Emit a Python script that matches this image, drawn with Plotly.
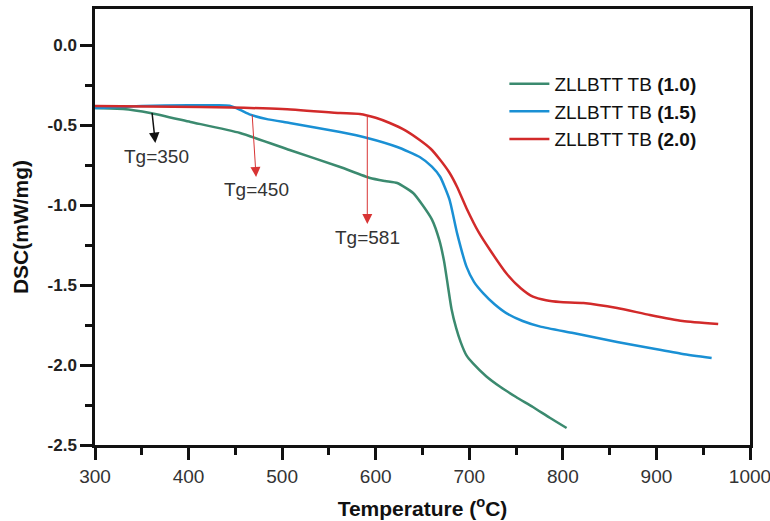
import plotly.graph_objects as go

# ---- data ----
temp_10 = [300, 330, 359, 402, 455, 508, 562, 594, 610, 623, 640, 650, 660, 668, 673, 677, 681, 686,
           691, 697, 704, 718, 733, 750, 768, 786, 804]
dsc_10 = [-0.394, -0.400, -0.425, -0.481, -0.55, -0.656, -0.7625, -0.831, -0.85, -0.8625, -0.925, -1.0,
          -1.09, -1.22, -1.35, -1.50, -1.65, -1.77, -1.86, -1.94, -1.99, -2.07, -2.136, -2.2, -2.2625,
          -2.33, -2.394]

temp_15 = [300, 350, 400, 430, 444, 455, 466, 485, 508, 562, 591, 623, 647, 660, 669, 679, 687, 697,
           705, 715, 727, 740, 757, 776, 811, 858, 893, 928, 959]
dsc_15 = [-0.394, -0.381, -0.376, -0.377, -0.380, -0.405, -0.435, -0.465, -0.4875, -0.544, -0.581,
          -0.6375, -0.70, -0.76, -0.825, -0.969, -1.177, -1.385, -1.48, -1.552, -1.62, -1.677, -1.725,
          -1.76, -1.80, -1.856, -1.894, -1.931, -1.956]

temp_20 = [300, 412, 500, 562, 583, 600, 615, 632, 647, 659, 669, 679, 687, 697, 710, 722, 740, 755,
           768, 782, 797, 822, 858, 893, 928, 966]
dsc_20 = [-0.381, -0.3875, -0.40, -0.425, -0.431, -0.455, -0.4875, -0.535, -0.594, -0.65, -0.719,
          -0.80, -0.8875, -1.02, -1.17, -1.28, -1.43, -1.52, -1.573, -1.595, -1.606, -1.6125, -1.644,
          -1.6875, -1.725, -1.744]

series_names = ["ZLLBTT TB <b>(1.0)</b>", "ZLLBTT TB <b>(1.5)</b>", "ZLLBTT TB <b>(2.0)</b>"]
series_colors = ["#3b8a6f", "#1a90d4", "#d22a2a"]

x_ticks = [300, 400, 500, 600, 700, 800, 900, 1000]
y_ticks = [0.0, -0.5, -1.0, -1.5, -2.0, -2.5]
y_ticklabels = ["0.0", "-0.5", "-1.0", "-1.5", "-2.0", "-2.5"]

tg_values = [350, 450, 581]
# annotation placement: arrow start on the curve, label centre (data coordinates)
tg_start = [(361, -0.425), (468, -0.4375), (591, -0.45)]
tg_text = [(366, -0.694), (473, -0.906), (591, -1.20)]
tg_arrow_colors = ["#111111", "#d83434", "#d83434"]
tg_arrow_widths = [1.5, 1.0, 1.0]
tg_head_sizes = [1.4, 2.0, 2.0]

fig = go.Figure()
for t, d, n, c in zip([temp_10, temp_15, temp_20], [dsc_10, dsc_15, dsc_20], series_names, series_colors):
    fig.add_trace(go.Scatter(x=t, y=d, mode="lines", name=n,
                             line=dict(color=c, width=2.5, shape="spline", smoothing=0.5)))

for tg, s, tx, ac, aw, hs in zip(tg_values, tg_start, tg_text, tg_arrow_colors, tg_arrow_widths, tg_head_sizes):
    fig.add_annotation(x=s[0], y=s[1], ax=tx[0], ay=tx[1], axref="x", ayref="y", xref="x", yref="y",
                       text=f"Tg={tg}", showarrow=True, arrowside="start",
                       startarrowhead=2, startarrowsize=hs, arrowwidth=aw, arrowcolor=ac,
                       standoff=0, startstandoff=1,
                       font=dict(family="Liberation Sans, Arial", size=19, color="#333333"))

axis_font = dict(family="Liberation Sans, Arial", color="#111111")
fig.update_xaxes(range=[300, 1000], tickvals=x_ticks, ticks="outside", ticklen=12, tickwidth=2.5,
                 tickcolor="#111111", showline=True, linewidth=2.5, linecolor="#111111", mirror=True,
                 showgrid=False, zeroline=False, ticklabeloverflow="allow", automargin=False,
                 minor=dict(dtick=50, ticks="outside", ticklen=7, tickwidth=2.5, tickcolor="#111111"),
                 tickfont=dict(family="Liberation Sans, Arial", size=19, color="#333333"),
                 title=dict(text="<b>Temperature (<sup>o</sup>C)</b>", font=dict(size=21, **axis_font),
                            standoff=16))
fig.update_yaxes(range=[-2.5, 0.225], tickvals=y_ticks, ticktext=[f"<b>{t}</b>" for t in y_ticklabels],
                 ticks="outside", ticklen=12, tickwidth=2.5, tickcolor="#111111",
                 showline=True, linewidth=2.5, linecolor="#111111", mirror=True,
                 showgrid=False, zeroline=False,
                 minor=dict(dtick=0.25, tick0=0, ticks="outside", ticklen=7, tickwidth=2.5, tickcolor="#111111"),
                 tickfont=dict(family="Liberation Sans, Arial", size=17, color="#222222"),
                 title=dict(text="<b>DSC(mW/mg)</b>", font=dict(size=21, **axis_font), standoff=14))

fig.update_layout(
    width=770, height=521,
    margin=dict(l=95, r=20, t=9, b=76),
    paper_bgcolor="white", plot_bgcolor="white",
    showlegend=True,
    legend=dict(x=0.625, y=0.872, xanchor="left", yanchor="top", bgcolor="rgba(0,0,0,0)",
                font=dict(family="Liberation Sans, Arial", size=19, color="#111111"),
                tracegroupgap=0, itemwidth=40),
)

fig.write_html("out.html", config={"displayModeBar": False},
               post_script="document.body.style.margin='0';document.body.style.padding='0';")
